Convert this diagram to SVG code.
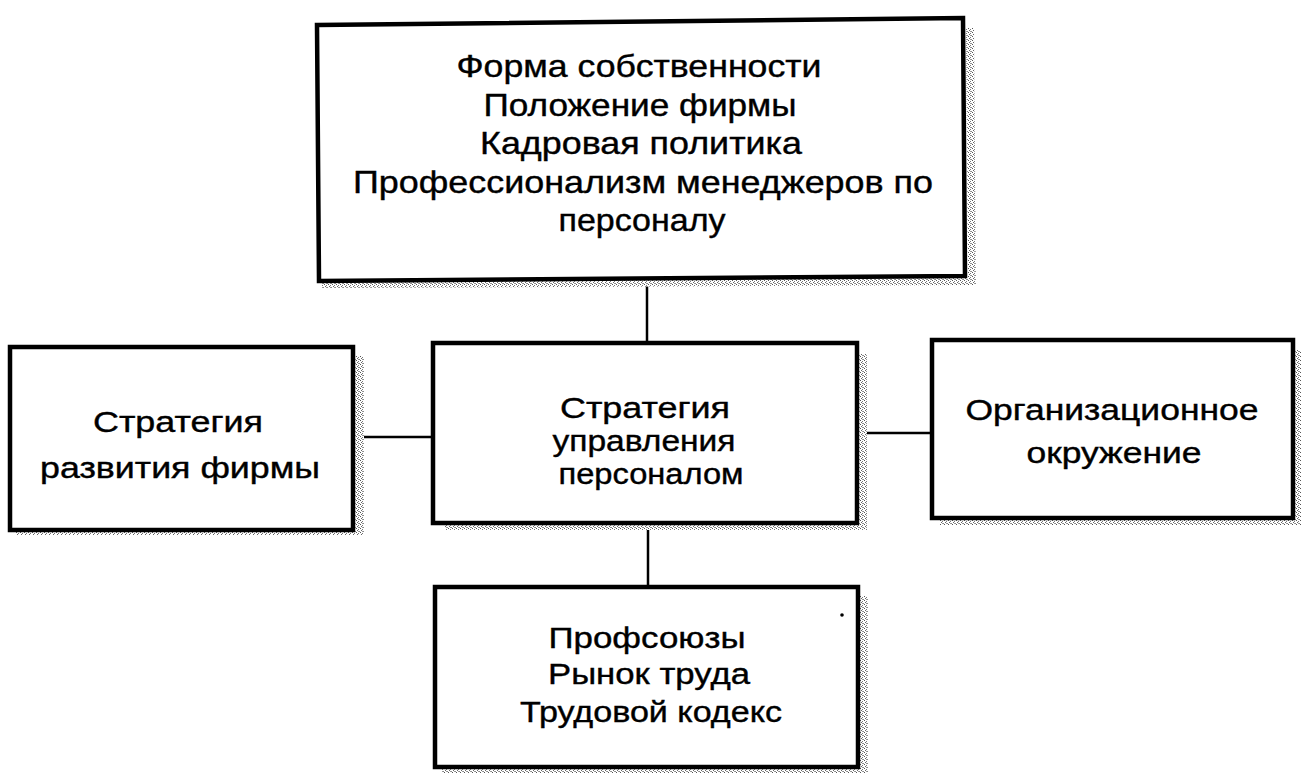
<svg xmlns="http://www.w3.org/2000/svg" width="1308" height="784" viewBox="0 0 1308 784">
<defs>
<pattern id="stip" width="4" height="4" patternUnits="userSpaceOnUse">
<rect width="4" height="4" fill="#fff"/>
<rect x="0" y="0" width="1" height="1" fill="#555"/>
<rect x="2" y="1" width="1" height="1" fill="#777"/>
<rect x="1" y="2" width="1" height="1" fill="#666"/>
<rect x="3" y="3" width="1" height="1" fill="#888"/>
<rect x="2" y="3" width="1" height="1" fill="#999"/>
</pattern>
</defs>
<style>
.box{fill:#fff;stroke:#000;stroke-width:4.5}
.sh{fill:url(#stip)}
.t{font-family:"Liberation Sans",Arial,sans-serif;font-size:30px;fill:#000;stroke:#000;stroke-width:0.4;text-anchor:middle}
.n{font-size:32px}
.c{stroke:#000;stroke-width:2.5;fill:none}
</style>
<rect width="1308" height="784" fill="#fff"/>
<g id="connectors">
<line class="c" x1="647" y1="279" x2="647" y2="343"/>
<line class="c" x1="648" y1="523" x2="648" y2="587"/>
<line class="c" x1="353" y1="437" x2="433" y2="437"/>
<line class="c" x1="857" y1="433" x2="932" y2="433"/>
</g>
<g id="top">
<path class="sh" d="M966,28 L974,28 L976,285 L322,288 L322,282 L968,278 Z"/>
<path class="box" d="M317,25 L963,18 L965,276 L319,281 Z"/>
<text class="t n" x="639" y="77" textLength="365" lengthAdjust="spacingAndGlyphs">Форма собственности</text>
<text class="t n" x="640" y="116" textLength="313" lengthAdjust="spacingAndGlyphs">Положение фирмы</text>
<text class="t n" x="641" y="154" textLength="322" lengthAdjust="spacingAndGlyphs">Кадровая политика</text>
<text class="t n" x="643" y="193" textLength="580" lengthAdjust="spacingAndGlyphs">Профессионализм менеджеров по</text>
<text class="t n" x="642" y="231" textLength="167" lengthAdjust="spacingAndGlyphs">персоналу</text>
</g>
<g id="left">
<path class="sh" d="M355,356 L364,356 L364,535 L16,535 L16,531 L355,531 Z"/>
<rect class="box" x="10" y="347" width="343" height="183"/>
<text class="t" x="178" y="432" textLength="170" lengthAdjust="spacingAndGlyphs">Стратегия</text>
<text class="t" x="180" y="478" textLength="280" lengthAdjust="spacingAndGlyphs">развития  фирмы</text>
</g>
<g id="center">
<path class="sh" d="M859,354 L867,354 L867,530 L445,530 L445,525 L859,525 Z"/>
<rect class="box" x="433" y="343" width="424" height="180"/>
<text class="t" x="645" y="418" textLength="170" lengthAdjust="spacingAndGlyphs">Стратегия</text>
<text class="t" x="644" y="451" textLength="183" lengthAdjust="spacingAndGlyphs">управления</text>
<text class="t" x="651" y="484" textLength="185" lengthAdjust="spacingAndGlyphs">персоналом</text>
</g>
<g id="right">
<path class="sh" d="M1295,350 L1301,350 L1301,525 L940,525 L940,520 L1295,520 Z"/>
<rect class="box" x="932" y="340" width="361" height="178"/>
<text class="t" x="1112" y="420" textLength="293" lengthAdjust="spacingAndGlyphs">Организационное</text>
<text class="t" x="1114" y="463" textLength="175" lengthAdjust="spacingAndGlyphs">окружение</text>
</g>
<g id="bottom">
<path class="sh" d="M860,596 L868,596 L868,773 L442,773 L442,769 L860,769 Z"/>
<rect class="box" x="435" y="587" width="423" height="180"/>
<text class="t" x="647" y="648" textLength="197" lengthAdjust="spacingAndGlyphs">Профсоюзы</text>
<text class="t" x="649" y="684" textLength="202" lengthAdjust="spacingAndGlyphs">Рынок труда</text>
<text class="t" x="651" y="722" textLength="262" lengthAdjust="spacingAndGlyphs">Трудовой кодекс</text>
<circle cx="842" cy="615" r="1.8" fill="#000"/>
</g>
</svg>
